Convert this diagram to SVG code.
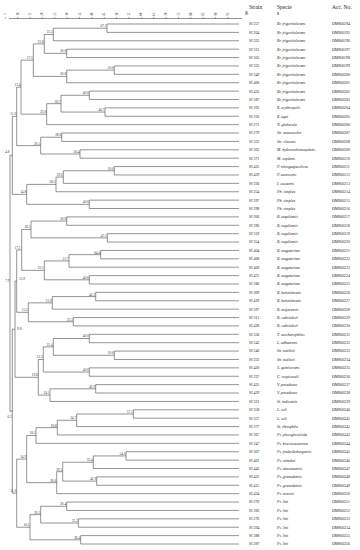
<svg xmlns="http://www.w3.org/2000/svg" width="360" height="550" viewBox="0 0 360 550">
<style>
text{font-family:"Liberation Serif","Times New Roman",serif;fill:#222}
.h{font-size:5.5px}
.l text{font-size:3.9px}
.sp{font-style:italic}
.n text{font-size:3.4px;text-anchor:end;fill:#333}
.ax text{font-size:3px;text-anchor:middle;dominant-baseline:central;fill:#444}
.c{fill:none;stroke:#3a3a3a;stroke-width:0.55}
</style>
<rect width="360" height="550" fill="#fff"/>
<g id="header">
<text class="h" x="249" y="8.5">Strain</text>
<text class="h" x="277" y="8.5">Specie</text>
<text class="h" x="277" y="15">s</text>
<text class="h" x="332" y="8.5">Acc. No.</text>
</g>
<g id="axis" class="ax">
<path class="c" d="M9 18.5 H242 M5.3 17.2V18.5 M17.7 17.2V18.5 M30 17.2V18.5 M42.4 17.2V18.5 M54.8 17.2V18.5 M67.2 17.2V18.5 M79.5 17.2V18.5 M91.9 17.2V18.5 M104.3 17.2V18.5 M116.6 17.2V18.5 M129 17.2V18.5 M141.4 17.2V18.5 M153.7 17.2V18.5 M166.1 17.2V18.5 M178.5 17.2V18.5 M190.9 17.2V18.5 M203.2 17.2V18.5 M215.6 17.2V18.5 M228 17.2V18.5"/>
<text transform="translate(5.3,14.3) rotate(-90)">5</text>
<text transform="translate(17.7,14.3) rotate(-90)">10</text>
<text transform="translate(30,14.3) rotate(-90)">15</text>
<text transform="translate(42.4,14.3) rotate(-90)">20</text>
<text transform="translate(54.8,14.3) rotate(-90)">25</text>
<text transform="translate(67.2,14.3) rotate(-90)">30</text>
<text transform="translate(79.5,14.3) rotate(-90)">35</text>
<text transform="translate(91.9,14.3) rotate(-90)">40</text>
<text transform="translate(104.3,14.3) rotate(-90)">45</text>
<text transform="translate(116.6,14.3) rotate(-90)">50</text>
<text transform="translate(129,14.3) rotate(-90)">55</text>
<text transform="translate(141.4,14.3) rotate(-90)">60</text>
<text transform="translate(153.7,14.3) rotate(-90)">65</text>
<text transform="translate(166.1,14.3) rotate(-90)">70</text>
<text transform="translate(178.5,14.3) rotate(-90)">75</text>
<text transform="translate(190.9,14.3) rotate(-90)">80</text>
<text transform="translate(203.2,14.3) rotate(-90)">85</text>
<text transform="translate(215.6,14.3) rotate(-90)">90</text>
<text transform="translate(228,14.3) rotate(-90)">95</text>
<text transform="translate(246.5,13.5) rotate(-90)">100</text>
</g>
<g id="connectors" class="c">
<path d="M239 24H107V32.39H239"/>
<path d="M107 28.19H53.3V40.77H239"/>
<path d="M239 49.16H66.7V57.55H239"/>
<path d="M53.3 34.48H44.3V53.35H66.7"/>
<path d="M239 65.94H114.3V74.32H239"/>
<path d="M114.3 70.13H66.7V82.71H239"/>
<path d="M44.3 43.92H33.3V76.42H66.7"/>
<path d="M239 91.1H89.3V99.48H239"/>
<path d="M239 107.87H105V116.26H239"/>
<path d="M89.3 95.29H61V112.06H105"/>
<path d="M61 103.68H46.7V124.64H239"/>
<path d="M33.3 60.17H21V114.16H46.7"/>
<path d="M239 133.03H61.7V141.42H239"/>
<path d="M239 149.81H80V158.19H239"/>
<path d="M61.7 137.22H40.7V154H80"/>
<path d="M21 87.16H16.7V145.61H40.7"/>
<path d="M239 166.58H114.3V174.97H239"/>
<path d="M114.3 170.77H63.3V183.35H239"/>
<path d="M63.3 177.06H56V191.74H239"/>
<path d="M239 200.13H89.3V208.51H239"/>
<path d="M56 184.4H26.7V204.32H89.3"/>
<path d="M16.7 116.39H12.3V194.36H26.7"/>
<path d="M239 216.9H66.7V225.29H239"/>
<path d="M239 233.68H107.3V242.06H239"/>
<path d="M66.7 221.09H31V237.87H107.3"/>
<path d="M239 250.45H100.7V258.84H239"/>
<path d="M100.7 254.64H69V267.22H239"/>
<path d="M239 275.61H89.3V284H239"/>
<path d="M69 260.93H44.3V279.8H89.3"/>
<path d="M31 229.48H21.7V270.37H44.3"/>
<path d="M239 292.38H95.7V300.77H239"/>
<path d="M95.7 296.58H52.3V309.16H239"/>
<path d="M239 317.55H73.3V325.93H239"/>
<path d="M52.3 302.87H28.3V321.74H73.3"/>
<path d="M21.7 249.92H16.7V312.3H28.3"/>
<path d="M239 334.32H89.3V342.71H239"/>
<path d="M239 351.09H114.3V359.48H239"/>
<path d="M89.3 338.51H53.3V355.29H114.3"/>
<path d="M239 367.87H89.3V376.25H239"/>
<path d="M53.3 346.9H43.3V372.06H89.3"/>
<path d="M239 384.64H95.7V393.03H239"/>
<path d="M95.7 388.83H50V401.42H239"/>
<path d="M43.3 359.48H38.3V395.12H50"/>
<path d="M16.7 281.11H15V377.3H38.3"/>
<path d="M239 409.8H133.3V418.19H239"/>
<path d="M133.3 414H76.7V426.58H239"/>
<path d="M76.7 420.29H57.3V434.96H239"/>
<path d="M57.3 427.63H36V443.35H239"/>
<path d="M239 451.74H126V460.12H239"/>
<path d="M126 455.93H93.3V468.51H239"/>
<path d="M239 476.9H96.7V485.29H239"/>
<path d="M93.3 462.22H62.7V481.1H96.7"/>
<path d="M62.7 471.66H56.7V493.67H239"/>
<path d="M36 435.49H26.7V482.66H56.7"/>
<path d="M239 502.06H66.7V510.45H239"/>
<path d="M239 518.83H78.3V527.22H239"/>
<path d="M66.7 506.26H40.7V523.03H78.3"/>
<path d="M239 535.61H80.7V544H239"/>
<path d="M40.7 514.64H30V539.81H80.7"/>
<path d="M26.7 459.08H16.7V527.22H30"/>
<path d="M15 329.21H12.3V493.15H16.7"/>
<path d="M12.3 155.37H10V411.18H12.3"/>
</g>
<g id="node-labels" class="n">
<g id="n1"><text x="106.4" y="27.1">67.1</text></g>
<g id="n2"><text x="52.7" y="33.4">25.3</text></g>
<g id="n3"><text x="66.1" y="52.2">30.8</text></g>
<g id="n4"><text x="43.7" y="42.8">23.8</text></g>
<g id="n5"><text x="113.7" y="69">50.0</text></g>
<g id="n6"><text x="66.1" y="75.3">30.8</text></g>
<g id="n7"><text x="32.7" y="59.1">17.5</text></g>
<g id="n8"><text x="88.7" y="94.2">40.0</text></g>
<g id="n9"><text x="104.4" y="111">46.7</text></g>
<g id="n10"><text x="60.4" y="102.6">26.7</text></g>
<g id="n11"><text x="46.1" y="113.1">22.8</text></g>
<g id="n12"><text x="20.4" y="86.1">12.4</text></g>
<g id="n13"><text x="61.1" y="136.1">28.6</text></g>
<g id="n14"><text x="79.4" y="152.9">36.4</text></g>
<g id="n15"><text x="40.1" y="144.5">20.5</text></g>
<g id="n16"><text x="16.1" y="115.3">11.0</text></g>
<g id="n17"><text x="113.7" y="169.7">50.0</text></g>
<g id="n18"><text x="62.7" y="176">29.2</text></g>
<g id="n19"><text x="55.4" y="183.3">26.5</text></g>
<g id="n20"><text x="88.7" y="203.2">40.0</text></g>
<g id="n21"><text x="26.1" y="193.3">14.8</text></g>
<g id="n22"><text x="9.5" y="152.5">4.8</text></g>
<g id="n23"><text x="66.1" y="220">30.8</text></g>
<g id="n24"><text x="106.7" y="236.8">47.1</text></g>
<g id="n25"><text x="30.4" y="228.4">26.5</text></g>
<g id="n26"><text x="100.1" y="253.5">64.4</text></g>
<g id="n27"><text x="68.4" y="259.8">31.7</text></g>
<g id="n28"><text x="88.7" y="278.7">40.0</text></g>
<g id="n29"><text x="43.7" y="269.3">22.1</text></g>
<g id="n30"><text x="20.4" y="248.8">17.1</text></g>
<g id="n31"><text x="95.1" y="295.5">42.1</text></g>
<g id="n32"><text x="51.7" y="301.8">21.9</text></g>
<g id="n33"><text x="72.7" y="320.6">33.3</text></g>
<g id="n34"><text x="27.7" y="311.2">15.2</text></g>
<g id="n35"><text x="25" y="279.8">15.9</text></g>
<g id="n36"><text x="88.7" y="337.4">40.0</text></g>
<g id="n37"><text x="113.7" y="354.2">50.0</text></g>
<g id="n38"><text x="52.7" y="345.8">25.4</text></g>
<g id="n39"><text x="88.7" y="371">40.0</text></g>
<g id="n40"><text x="42.7" y="358.4">21.2</text></g>
<g id="n41"><text x="95.1" y="387.7">42.9</text></g>
<g id="n42"><text x="49.4" y="394">24.1</text></g>
<g id="n43"><text x="37.7" y="376.2">19.6</text></g>
<g id="n44"><text x="21.6" y="329.5">9.8</text></g>
<g id="n45"><text x="132.7" y="412.9">57.1</text></g>
<g id="n46"><text x="76.1" y="419.2">34.7</text></g>
<g id="n47"><text x="56.7" y="426.5">26.8</text></g>
<g id="n48"><text x="35.4" y="434.4">18.5</text></g>
<g id="n49"><text x="125.4" y="454.8">54.5</text></g>
<g id="n50"><text x="92.7" y="461.1">35.4</text></g>
<g id="n51"><text x="96.1" y="480">42.9</text></g>
<g id="n52"><text x="62.1" y="470.6">29.1</text></g>
<g id="n53"><text x="56.1" y="481.6">26.6</text></g>
<g id="n54"><text x="26.1" y="458">14.9</text></g>
<g id="n55"><text x="66.1" y="505.2">30.4</text></g>
<g id="n56"><text x="77.7" y="521.9">33.3</text></g>
<g id="n57"><text x="40.1" y="513.5">20.5</text></g>
<g id="n58"><text x="80.1" y="538.7">36.4</text></g>
<g id="n59"><text x="29.4" y="526.1">16.1</text></g>
<g id="n60"><text x="16.1" y="492.1">11.0</text></g>
<g id="n61"><text x="11.8" y="417.8">6.3</text></g>
<g id="n62"><text x="9.4" y="282.2">7.9</text></g>
</g>
<g id="leaves" class="l">
<g id="SI257" transform="translate(0,24)"><text x="249" y="1.4">SI 257</text><text class="sp" x="277" y="1.4">Br. frigoritolerans</text><text x="332" y="1.4">OM866194</text></g>
<g id="SI264" transform="translate(0,32.39)"><text x="249" y="1.4">SI 264</text><text class="sp" x="277" y="1.4">Br. frigoritolerans</text><text x="332" y="1.4">OM866195</text></g>
<g id="SI325" transform="translate(0,40.77)"><text x="249" y="1.4">SI 325</text><text class="sp" x="277" y="1.4">Br. frigoritolerans</text><text x="332" y="1.4">OM866196</text></g>
<g id="SI312" transform="translate(0,49.16)"><text x="249" y="1.4">SI 312</text><text class="sp" x="277" y="1.4">Br. frigoritolerans</text><text x="332" y="1.4">OM866197</text></g>
<g id="SI365" transform="translate(0,57.55)"><text x="249" y="1.4">SI 365</text><text class="sp" x="277" y="1.4">Br. frigoritolerans</text><text x="332" y="1.4">OM866198</text></g>
<g id="SI333" transform="translate(0,65.94)"><text x="249" y="1.4">SI 333</text><text class="sp" x="277" y="1.4">Br. frigoritolerans</text><text x="332" y="1.4">OM866199</text></g>
<g id="SI349" transform="translate(0,74.32)"><text x="249" y="1.4">SI 349</text><text class="sp" x="277" y="1.4">Br. frigoritolerans</text><text x="332" y="1.4">OM866200</text></g>
<g id="SI400" transform="translate(0,82.71)"><text x="249" y="1.4">SI 400</text><text class="sp" x="277" y="1.4">Br. frigoritolerans</text><text x="332" y="1.4">OM866201</text></g>
<g id="SI433" transform="translate(0,91.1)"><text x="249" y="1.4">SI 433</text><text class="sp" x="277" y="1.4">Br. frigoritolerans</text><text x="332" y="1.4">OM866202</text></g>
<g id="SI387" transform="translate(0,99.48)"><text x="249" y="1.4">SI 387</text><text class="sp" x="277" y="1.4">Br. frigoritolerans</text><text x="332" y="1.4">OM866203</text></g>
<g id="SI293" transform="translate(0,107.87)"><text x="249" y="1.4">SI 293</text><text class="sp" x="277" y="1.4">R. erythropolis</text><text x="332" y="1.4">OM866204</text></g>
<g id="SI250" transform="translate(0,116.26)"><text x="249" y="1.4">SI 250</text><text class="sp" x="277" y="1.4">R. equi</text><text x="332" y="1.4">OM866205</text></g>
<g id="SI271" transform="translate(0,124.64)"><text x="249" y="1.4">SI 271</text><text class="sp" x="277" y="1.4">N. globerula</text><text x="332" y="1.4">OM866206</text></g>
<g id="SI279" transform="translate(0,133.03)"><text x="249" y="1.4">SI 279</text><text class="sp" x="277" y="1.4">Str. mauvecolor</text><text x="332" y="1.4">OM866207</text></g>
<g id="SI332" transform="translate(0,141.42)"><text x="249" y="1.4">SI 332</text><text class="sp" x="277" y="1.4">Str. silaceus</text><text x="332" y="1.4">OM866208</text></g>
<g id="SI362" transform="translate(0,149.81)"><text x="249" y="1.4">SI 362</text><text class="sp" x="277" y="1.4">M. hydrocarbonoxydans</text><text x="332" y="1.4">OM866209</text></g>
<g id="SI371" transform="translate(0,158.19)"><text x="249" y="1.4">SI 371</text><text class="sp" x="277" y="1.4">M. oxydans</text><text x="332" y="1.4">OM866210</text></g>
<g id="SI425" transform="translate(0,166.58)"><text x="249" y="1.4">SI 425</text><text class="sp" x="277" y="1.4">P. nitroguajacolicus</text><text x="332" y="1.4">OM866211</text></g>
<g id="SI429" transform="translate(0,174.97)"><text x="249" y="1.4">SI 429</text><text class="sp" x="277" y="1.4">P. aurescens</text><text x="332" y="1.4">OM866212</text></g>
<g id="SI236" transform="translate(0,183.35)"><text x="249" y="1.4">SI 236</text><text class="sp" x="277" y="1.4">I. cacaonis</text><text x="332" y="1.4">OM866213</text></g>
<g id="SI254" transform="translate(0,191.74)"><text x="249" y="1.4">SI 254</text><text class="sp" x="277" y="1.4">Ph. simplex</text><text x="332" y="1.4">OM866214</text></g>
<g id="SI397" transform="translate(0,200.13)"><text x="249" y="1.4">SI 397</text><text class="sp" x="277" y="1.4">Ph. simplex</text><text x="332" y="1.4">OM866215</text></g>
<g id="SI298" transform="translate(0,208.51)"><text x="249" y="1.4">SI 298</text><text class="sp" x="277" y="1.4">Ph. simplex</text><text x="332" y="1.4">OM866216</text></g>
<g id="SI306" transform="translate(0,216.9)"><text x="249" y="1.4">SI 306</text><text class="sp" x="277" y="1.4">B. tequilensis</text><text x="332" y="1.4">OM866217</text></g>
<g id="SI296" transform="translate(0,225.29)"><text x="249" y="1.4">SI 296</text><text class="sp" x="277" y="1.4">B. tequilensis</text><text x="332" y="1.4">OM866218</text></g>
<g id="SI319" transform="translate(0,233.68)"><text x="249" y="1.4">SI 319</text><text class="sp" x="277" y="1.4">B. tequilensis</text><text x="332" y="1.4">OM866219</text></g>
<g id="SI354" transform="translate(0,242.06)"><text x="249" y="1.4">SI 354</text><text class="sp" x="277" y="1.4">B. tequilensis</text><text x="332" y="1.4">OM866220</text></g>
<g id="SI404" transform="translate(0,250.45)"><text x="249" y="1.4">SI 404</text><text class="sp" x="277" y="1.4">B. megaterium</text><text x="332" y="1.4">OM866221</text></g>
<g id="SI408" transform="translate(0,258.84)"><text x="249" y="1.4">SI 408</text><text class="sp" x="277" y="1.4">B. megaterium</text><text x="332" y="1.4">OM866222</text></g>
<g id="SI409" transform="translate(0,267.22)"><text x="249" y="1.4">SI 409</text><text class="sp" x="277" y="1.4">B. megaterium</text><text x="332" y="1.4">OM866223</text></g>
<g id="SI475" transform="translate(0,275.61)"><text x="249" y="1.4">SI 475</text><text class="sp" x="277" y="1.4">B. megaterium</text><text x="332" y="1.4">OM866224</text></g>
<g id="SI286" transform="translate(0,284)"><text x="249" y="1.4">SI 286</text><text class="sp" x="277" y="1.4">B. megaterium</text><text x="332" y="1.4">OM866225</text></g>
<g id="SI309" transform="translate(0,292.38)"><text x="249" y="1.4">SI 309</text><text class="sp" x="277" y="1.4">B. halotolerans</text><text x="332" y="1.4">OM866226</text></g>
<g id="SI419" transform="translate(0,300.77)"><text x="249" y="1.4">SI 419</text><text class="sp" x="277" y="1.4">B. halotolerans</text><text x="332" y="1.4">OM866227</text></g>
<g id="SI297" transform="translate(0,309.16)"><text x="249" y="1.4">SI 297</text><text class="sp" x="277" y="1.4">B. mojavensis</text><text x="332" y="1.4">OM866228</text></g>
<g id="SI311" transform="translate(0,317.55)"><text x="249" y="1.4">SI 311</text><text class="sp" x="277" y="1.4">B. cabrialesii</text><text x="332" y="1.4">OM866229</text></g>
<g id="SI428" transform="translate(0,325.93)"><text x="249" y="1.4">SI 428</text><text class="sp" x="277" y="1.4">B. cabrialesii</text><text x="332" y="1.4">OM866230</text></g>
<g id="SI356" transform="translate(0,334.32)"><text x="249" y="1.4">SI 356</text><text class="sp" x="277" y="1.4">T. saccharophilus</text><text x="332" y="1.4">OM866231</text></g>
<g id="SI243" transform="translate(0,342.71)"><text x="249" y="1.4">SI 243</text><text class="sp" x="277" y="1.4">L. adhaerens</text><text x="332" y="1.4">OM866232</text></g>
<g id="SI240" transform="translate(0,351.09)"><text x="249" y="1.4">SI 240</text><text class="sp" x="277" y="1.4">Sn. meliloti</text><text x="332" y="1.4">OM866233</text></g>
<g id="SI233" transform="translate(0,359.48)"><text x="249" y="1.4">SI 233</text><text class="sp" x="277" y="1.4">Sn. meliloti</text><text x="332" y="1.4">OM866234</text></g>
<g id="SI420" transform="translate(0,367.87)"><text x="249" y="1.4">SI 420</text><text class="sp" x="277" y="1.4">S. quinivorans</text><text x="332" y="1.4">OM866235</text></g>
<g id="SI237" transform="translate(0,376.25)"><text x="249" y="1.4">SI 237</text><text class="sp" x="277" y="1.4">C. respiraculi</text><text x="332" y="1.4">OM866236</text></g>
<g id="SI435" transform="translate(0,384.64)"><text x="249" y="1.4">SI 435</text><text class="sp" x="277" y="1.4">V. paradoxus</text><text x="332" y="1.4">OM866237</text></g>
<g id="SI439" transform="translate(0,393.03)"><text x="249" y="1.4">SI 439</text><text class="sp" x="277" y="1.4">V. paradoxus</text><text x="332" y="1.4">OM866238</text></g>
<g id="SI321" transform="translate(0,401.42)"><text x="249" y="1.4">SI 321</text><text class="sp" x="277" y="1.4">St. indicatrix</text><text x="332" y="1.4">OM866239</text></g>
<g id="SI358" transform="translate(0,409.8)"><text x="249" y="1.4">SI 358</text><text class="sp" x="277" y="1.4">L. soli</text><text x="332" y="1.4">OM866240</text></g>
<g id="SI357" transform="translate(0,418.19)"><text x="249" y="1.4">SI 357</text><text class="sp" x="277" y="1.4">L. soli</text><text x="332" y="1.4">OM866241</text></g>
<g id="SI377" transform="translate(0,426.58)"><text x="249" y="1.4">SI 377</text><text class="sp" x="277" y="1.4">St. rhizophila</text><text x="332" y="1.4">OM866242</text></g>
<g id="SI367" transform="translate(0,434.96)"><text x="249" y="1.4">SI 367</text><text class="sp" x="277" y="1.4">Ps. plecoglossicida</text><text x="332" y="1.4">OM866243</text></g>
<g id="SI247" transform="translate(0,443.35)"><text x="249" y="1.4">SI 247</text><text class="sp" x="277" y="1.4">Ps. brassicacearum</text><text x="332" y="1.4">OM866244</text></g>
<g id="SI307" transform="translate(0,451.74)"><text x="249" y="1.4">SI 307</text><text class="sp" x="277" y="1.4">Ps. frederiksbergensis</text><text x="332" y="1.4">OM866245</text></g>
<g id="SI461" transform="translate(0,460.12)"><text x="249" y="1.4">SI 461</text><text class="sp" x="277" y="1.4">Ps. reinekei</text><text x="332" y="1.4">OM866246</text></g>
<g id="SI443" transform="translate(0,468.51)"><text x="249" y="1.4">SI 443</text><text class="sp" x="277" y="1.4">Ps. atacamensis</text><text x="332" y="1.4">OM866247</text></g>
<g id="SI422" transform="translate(0,476.9)"><text x="249" y="1.4">SI 422</text><text class="sp" x="277" y="1.4">Ps. granadensis</text><text x="332" y="1.4">OM866248</text></g>
<g id="SI415" transform="translate(0,485.29)"><text x="249" y="1.4">SI 415</text><text class="sp" x="277" y="1.4">Ps. granadensis</text><text x="332" y="1.4">OM866249</text></g>
<g id="SI434" transform="translate(0,493.67)"><text x="249" y="1.4">SI 434</text><text class="sp" x="277" y="1.4">Ps. moorei</text><text x="332" y="1.4">OM866250</text></g>
<g id="SI270" transform="translate(0,502.06)"><text x="249" y="1.4">SI 270</text><text class="sp" x="277" y="1.4">Ps. lini</text><text x="332" y="1.4">OM866251</text></g>
<g id="SI283" transform="translate(0,510.45)"><text x="249" y="1.4">SI 283</text><text class="sp" x="277" y="1.4">Ps. lini</text><text x="332" y="1.4">OM866252</text></g>
<g id="SI276" transform="translate(0,518.83)"><text x="249" y="1.4">SI 276</text><text class="sp" x="277" y="1.4">Ps. lini</text><text x="332" y="1.4">OM866253</text></g>
<g id="SI294" transform="translate(0,527.22)"><text x="249" y="1.4">SI 294</text><text class="sp" x="277" y="1.4">Ps. lini</text><text x="332" y="1.4">OM866254</text></g>
<g id="SI288" transform="translate(0,535.61)"><text x="249" y="1.4">SI 288</text><text class="sp" x="277" y="1.4">Ps. lini</text><text x="332" y="1.4">OM866255</text></g>
<g id="SI287" transform="translate(0,544)"><text x="249" y="1.4">SI 287</text><text class="sp" x="277" y="1.4">Ps. lini</text><text x="332" y="1.4">OM866256</text></g>
</g>
</svg>
